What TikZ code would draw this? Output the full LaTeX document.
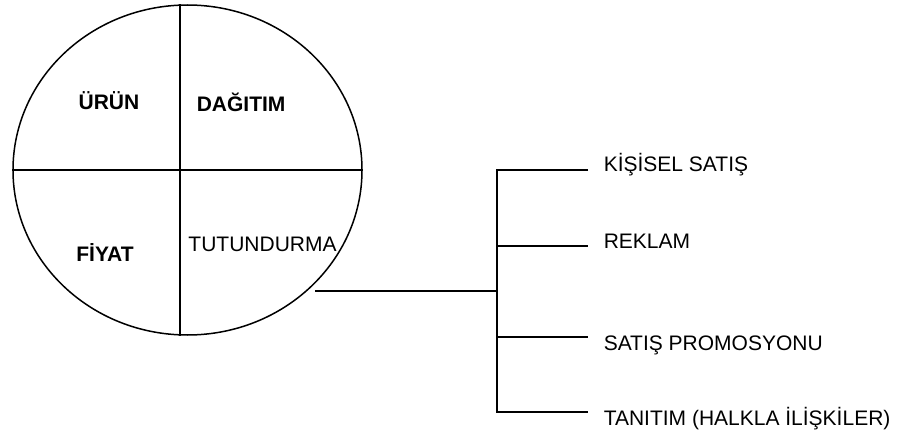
\documentclass[tikz,border=0pt]{standalone}
\usepackage{fontspec}
\setmainfont{Liberation Sans}
\usetikzlibrary{shapes.geometric}
\begin{document}
\begin{tikzpicture}[x=1pt,y=-1pt,line width=1.5pt,
		lbl/.style={font=\fontsize{21}{24}\selectfont,inner sep=0pt},
		blbl/.style={lbl,font=\fontsize{21}{24}\selectfont\bfseries}]
		\useasboundingbox (0,0) rectangle (906,436);
		\node[draw,ellipse,minimum width=349pt,minimum height=330pt,inner sep=0pt] (mix) at (187.5,170) {};
		\draw (mix.west) -- (mix.east);
		\draw ([xshift=-7.5pt]mix.north) -- ([xshift=-7.5pt]mix.south);
		\node[blbl,anchor=base] (urun) at (109,110) {ÜRÜN};
		\node[blbl,anchor=base west] (dagitim) at (196,111) {DAĞITIM};
		\node[blbl,anchor=base] (fiyat) at (105,261.7) {FİYAT};
		\node[lbl,anchor=base west] (tutundurma) at (187.7,251.7) {TUTUNDURMA};
		\node[lbl,anchor=base west] (kisisel) at (603,171.7) {KİŞİSEL SATIŞ};
		\node[lbl,anchor=base west] (reklam) at (603,248) {REKLAM};
		\node[lbl,anchor=base west] (promosyon) at (603,350) {SATIŞ PROMOSYONU};
		\node[lbl,anchor=base west] (tanitim) at (603,425.5) {TANITIM (HALKLA İLİŞKİLER)};
		\coordinate (start) at (315,291);
		\coordinate (fork) at (497,291);
		\foreach \y/\n in {170/1,246/2,337/3,412/4}
			\coordinate (e\n) at (588,\y);
		\draw (start) -- (fork);
		\draw (e1) -| (fork) |- (e4);
		\draw (fork |- e2) -- (e2);
		\draw (fork |- e3) -- (e3);
\end{tikzpicture}
\end{document}
